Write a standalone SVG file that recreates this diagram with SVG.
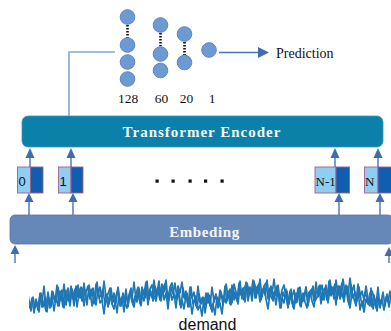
<svg xmlns="http://www.w3.org/2000/svg" width="391" height="331" viewBox="0 0 391 331">
  <defs>
    <style>
      .neuron { fill: #6D9AD3; stroke: #5A87C2; stroke-width: 1; }
      .ellipsis { stroke: #111; stroke-width: 2.6; stroke-dasharray: 1.6 1.4; fill: none; }
      .num { font-family: "Liberation Serif", "Times New Roman", serif; font-size: 13.5px; fill: #111; text-anchor: middle; }
      .label { font-family: "Liberation Serif", "Times New Roman", serif; font-size: 14px; fill: #111; }
      .band-text { font-family: "Liberation Serif", "Times New Roman", serif; font-size: 15px; font-weight: bold; fill: #F4F6FA; text-anchor: middle; }
      .flow { stroke: #4573B3; stroke-width: 1.4; fill: none; }
      .head { fill: #3E6DB0; }
      .tok-light { fill: #8FCDF3; stroke: #A6608F; stroke-width: 0.9; }
      .tok-dark { fill: #0F5EB2; stroke: #A6608F; stroke-width: 0.9; }
      .tok-sans { font-family: "Liberation Sans", Arial, sans-serif; font-size: 13px; fill: #111; }
      .tok-serif { font-family: "Liberation Serif", "Times New Roman", serif; font-size: 13px; fill: #111; }
      .series { fill: none; stroke: #1F77B4; stroke-width: 1.7; stroke-linejoin: round; }
    </style>
    <clipPath id="series-clip">
      <rect x="29" y="250" width="362" height="81"/>
    </clipPath>
  </defs>

  <!-- dense layers feeding the prediction -->
  <g id="layer-128">
    <line class="ellipsis" x1="127.5" y1="25" x2="127.5" y2="38"/>
    <circle class="neuron" cx="127.5" cy="17" r="7.3"/>
    <circle class="neuron" cx="127.5" cy="45" r="7.3"/>
    <circle class="neuron" cx="127.5" cy="62" r="7.3"/>
    <circle class="neuron" cx="127.5" cy="79" r="7.3"/>
    <text class="num" x="128" y="103">128</text>
  </g>
  <g id="layer-60">
    <line class="ellipsis" x1="160.5" y1="33" x2="160.5" y2="46"/>
    <circle class="neuron" cx="160.5" cy="25" r="7.3"/>
    <circle class="neuron" cx="160.5" cy="54" r="7.3"/>
    <circle class="neuron" cx="160.5" cy="70.5" r="7.3"/>
    <text class="num" x="161.5" y="103">60</text>
  </g>
  <g id="layer-20">
    <line class="ellipsis" x1="184.5" y1="42" x2="184.5" y2="55"/>
    <circle class="neuron" cx="184.5" cy="34" r="7.3"/>
    <circle class="neuron" cx="184.5" cy="62.5" r="7.3"/>
    <text class="num" x="186.5" y="103">20</text>
  </g>
  <g id="layer-1">
    <circle class="neuron" cx="209" cy="50" r="7.3"/>
    <text class="num" x="212" y="103">1</text>
  </g>
  <g id="prediction">
    <text class="label" x="276" y="58">Prediction</text>
  </g>

  <!-- encoder and embedding bands -->
  <g id="transformer-encoder">
    <rect x="22" y="116" width="361" height="31" rx="6" fill="#0B80A8" stroke="#3D93B8" stroke-width="0.8"/>
    <text class="band-text" x="202" y="136.5" letter-spacing="1">Transformer Encoder</text>
  </g>
  <g id="embedding">
    <rect x="10" y="215" width="383" height="29" rx="5" fill="#6688B8" stroke="#5676A8" stroke-width="0.8"/>
    <text class="band-text" x="204.5" y="237" letter-spacing="0.6">Embeding</text>
  </g>

  <!-- positional tokens -->
  <g id="token-0">
    <rect class="tok-light" x="17.5" y="167" width="13" height="26"/>
    <rect class="tok-dark" x="30.5" y="167" width="12.5" height="26"/>
    <text class="tok-sans" x="18.5" y="185.5">0</text>
  </g>
  <g id="token-1">
    <rect class="tok-light" x="58.5" y="167" width="12.5" height="26"/>
    <rect class="tok-dark" x="71" y="167" width="12" height="26"/>
    <text class="tok-sans" x="59.5" y="185.5">1</text>
  </g>
  <g id="token-n-1">
    <rect class="tok-light" x="315" y="167" width="21" height="26"/>
    <rect class="tok-dark" x="336" y="167" width="13.5" height="26"/>
    <text class="tok-serif" x="315.5" y="186">N-1</text>
  </g>
  <g id="token-n">
    <rect class="tok-light" x="364.5" y="167" width="13.5" height="26"/>
    <rect class="tok-dark" x="378" y="167" width="14" height="26"/>
    <text class="tok-serif" x="365" y="186">N</text>
  </g>
  <g id="ellipsis-dots" fill="#111">
    <rect x="155.5" y="179.5" width="3.2" height="3.2"/>
    <rect x="171.5" y="179.5" width="3.2" height="3.2"/>
    <rect x="188.5" y="179.5" width="3.2" height="3.2"/>
    <rect x="204" y="179.5" width="3.2" height="3.2"/>
    <rect x="220.5" y="179.5" width="3.2" height="3.2"/>
  </g>

  <!-- demand series: one sampled trace, overdrawn at interleaved offsets for a dense look -->
  <g id="demand">
    <g clip-path="url(#series-clip)">
      <polyline id="demand-trace" class="series" points="29,301 31,311 33,297 35,308 37,303 39,312 41,293 43,307 45,297 47,312 49,298 51,307 53,292 55,302 57,285 59,306 61,294 63,307 65,290 67,298 69,301 71,286 73,299 75,289 77,307 79,293 81,287 83,300 85,290 87,305 89,285 91,296 93,288 95,300 97,282 99,298 101,295 103,289 105,305 107,294 109,304 111,288 113,302 115,299 117,313 119,295 121,306 123,293 125,303 127,308 129,295 131,288 133,305 135,296 137,302 139,288 141,306 143,291 145,298 147,281 149,299 151,292 153,301 155,286 157,293 159,281 161,301 163,288 165,284 167,295 169,300 171,287 173,294 175,283 177,299 179,292 181,308 183,288 185,299 187,293 189,307 191,287 193,304 195,299 197,308 199,294 201,304 203,297 205,313 207,300 209,295 211,309 213,304 215,315 217,297 219,304 221,292 223,305 225,286 227,301 229,294 231,305 233,289 235,295 237,301 239,283 241,295 243,288 245,302 247,283 249,291 251,294 253,280 255,298 257,287 259,284 261,300 263,289 265,295 267,280 269,297 271,286 273,301 275,291 277,286 279,298 281,308 283,292 285,298 287,291 289,304 291,289 293,307 295,297 297,302 299,288 301,307 303,293 305,302 307,308 309,292 311,295 313,286 315,301 317,297 319,286 321,304 323,290 325,288 327,300 329,281 331,296 333,291 335,284 337,299 339,286 341,296 343,279 345,293 347,286 349,304 351,285 353,298 355,292 357,301 359,287 361,300 363,307 365,292 367,298 369,305 371,288 373,309 375,300 377,311 379,298 381,303 383,292 385,306 387,294 389,307 391,295"/>
      <use href="#demand-trace" transform="translate(7,-1)"/>
      <use href="#demand-trace" transform="translate(-13,1)"/>
    </g>
    <text x="207.5" y="329.5" font-family="Liberation Sans, Arial, sans-serif" font-size="16" fill="#111" text-anchor="middle">demand</text>
  </g>

  <!-- connectors -->
  <g id="connectors">
    <polyline points="69,116 69,52 115,52" fill="none" stroke="#86A6D2" stroke-width="1.6"/>
    <line class="flow" x1="219" y1="52.5" x2="259" y2="52.5"/>
    <polygon class="head" points="258,47 269,52.5 258,58"/>

    <!-- token to encoder -->
    <line class="flow" x1="30" y1="157" x2="30" y2="167"/>
    <polygon class="head" points="25.5,158 30,148 34.5,158"/>
    <line class="flow" x1="71" y1="157" x2="71" y2="167"/>
    <polygon class="head" points="66.5,158 71,148 75.5,158"/>
    <line class="flow" x1="335" y1="157" x2="335" y2="167"/>
    <polygon class="head" points="330.5,158 335,148 339.5,158"/>
    <line class="flow" x1="378" y1="157" x2="378" y2="167"/>
    <polygon class="head" points="373.5,158 378,148 382.5,158"/>

    <!-- embedding to token -->
    <line class="flow" x1="29" y1="201" x2="29" y2="215"/>
    <polygon class="head" points="24.5,202 29,193 33.5,202"/>
    <line class="flow" x1="73" y1="201" x2="73" y2="215"/>
    <polygon class="head" points="68.5,202 73,193 77.5,202"/>
    <line class="flow" x1="339" y1="201" x2="339" y2="215"/>
    <polygon class="head" points="334.5,202 339,193 343.5,202"/>
    <line class="flow" x1="380" y1="201" x2="380" y2="215"/>
    <polygon class="head" points="375.5,202 380,193 384.5,202"/>

    <!-- series into embedding -->
    <line class="flow" x1="15" y1="253" x2="15" y2="263"/>
    <polygon class="head" points="10.5,254 15,245 19.5,254"/>
    <line class="flow" x1="389" y1="255" x2="389" y2="263"/>
    <polygon class="head" points="384.5,256 389,247 393.5,256"/>
  </g>
</svg>
